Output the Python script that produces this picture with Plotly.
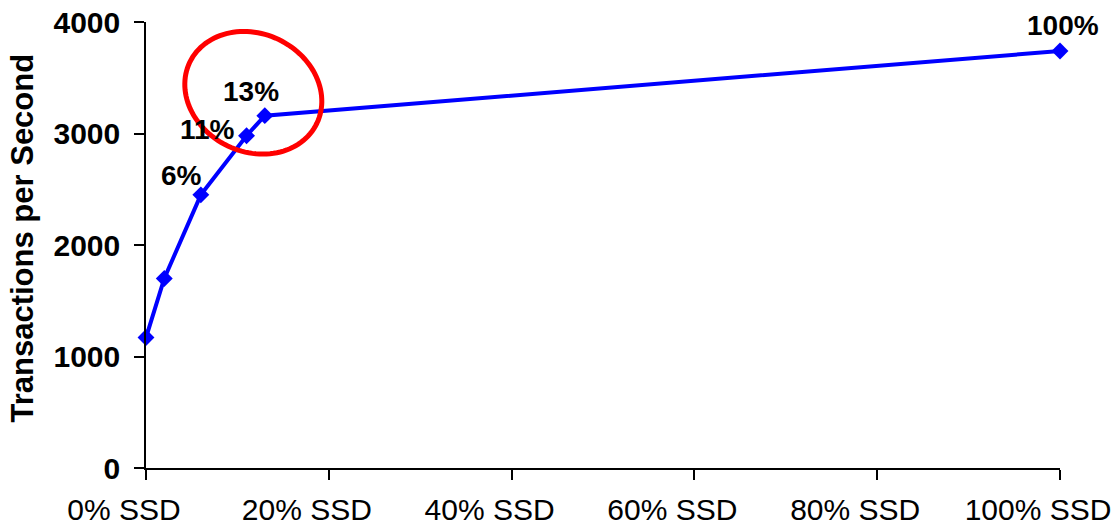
import numpy as np
import plotly.graph_objects as go

# SSD share (%) and measured throughput
ssd_share = [0, 2, 6, 11, 13, 100]
tps = [1170, 1700, 2450, 2980, 3160, 3740]

x_ticks = [0, 20, 40, 60, 80, 100]
x_tick_text = [f"{v}% SSD" for v in x_ticks]
y_ticks = [0, 1000, 2000, 3000, 4000]

labelled = [6, 11, 13, 100]
label_shift = {6: (-19, 19), 11: (-39, 6), 13: (-14, 24), 100: (3, 25)}

W, H = 1115, 530
M_L, M_R, M_T, M_B = 146, 55, 22, 62
X_RANGE = [0, 100]
Y_RANGE = [0, 4000]
px_per_x = (W - M_L - M_R) / (X_RANGE[1] - X_RANGE[0])
px_per_y = (H - M_T - M_B) / (Y_RANGE[1] - Y_RANGE[0])

FONT = "Liberation Sans, Arial, sans-serif"

fig = go.Figure()
fig.add_trace(go.Scatter(
    x=ssd_share, y=tps,
    mode="lines+markers",
    line=dict(color="#0000ff", width=4),
    marker=dict(symbol="diamond", size=13, color="#0000ff"),
    cliponaxis=False,
    showlegend=False,
))

for xv in labelled:
    yv = tps[ssd_share.index(xv)]
    dx, dy = label_shift[xv]
    fig.add_annotation(
        x=xv, y=yv, xref="x", yref="y", text=f"{xv}%", showarrow=False,
        xshift=dx, yshift=dy,
        font=dict(family=FONT, size=28, color="black", weight="bold"),
    )

# red highlight ellipse around the knee of the curve (tilted, built in pixels)
cx, cy = 11.74, 3365
a_px, b_px, theta = 70.5, 59, np.deg2rad(25.6)
t = np.linspace(0, 2 * np.pi, 121)
ex_px = a_px * np.cos(theta) * np.cos(t) - b_px * np.sin(theta) * np.sin(t)
ey_px = a_px * np.sin(theta) * np.cos(t) + b_px * np.cos(theta) * np.sin(t)
ex = cx + ex_px / px_per_x
ey = cy - ey_px / px_per_y
path = "M " + " L ".join(f"{x:.4f},{y:.2f}" for x, y in zip(ex, ey)) + " Z"
fig.add_shape(type="path", path=path, xref="x", yref="y",
              line=dict(color="#ff0000", width=5), layer="above")

# rotated y-axis title
fig.add_annotation(
    text="Transactions per Second", textangle=-90, showarrow=False,
    xref="paper", yref="paper", x=0, y=(H - M_B - 238.5) / (H - M_T - M_B),
    xanchor="center", yanchor="middle", xshift=-124,
    font=dict(family=FONT, size=31, color="black", weight="bold"),
)

fig.update_layout(
    width=W, height=H,
    margin=dict(l=M_L, r=M_R, t=M_T, b=M_B, pad=0, autoexpand=False),
    paper_bgcolor="white", plot_bgcolor="white",
    font=dict(family=FONT, color="black"),
)
fig.update_xaxes(
    range=X_RANGE, tickvals=x_ticks, ticktext=x_tick_text, automargin=False,
    showgrid=False, zeroline=False, showline=True, linecolor="black", linewidth=1.5,
    ticks="outside", ticklen=10, tickwidth=1.5, tickcolor="black",
    tickfont=dict(family=FONT, size=30, color="black"),
    ticklabeloverflow="allow", ticklabelstandoff=4, ticklabelshift=-22,
)
fig.update_yaxes(
    range=Y_RANGE, tickvals=y_ticks, automargin=False,
    showgrid=False, zeroline=False, showline=True, linecolor="black", linewidth=1.5,
    ticks="outside", ticklen=10, tickwidth=1.5, tickcolor="black",
    tickfont=dict(family=FONT, size=30, color="black", weight="bold"),
    ticklabelstandoff=8,
)

fig.write_html("out.html")
